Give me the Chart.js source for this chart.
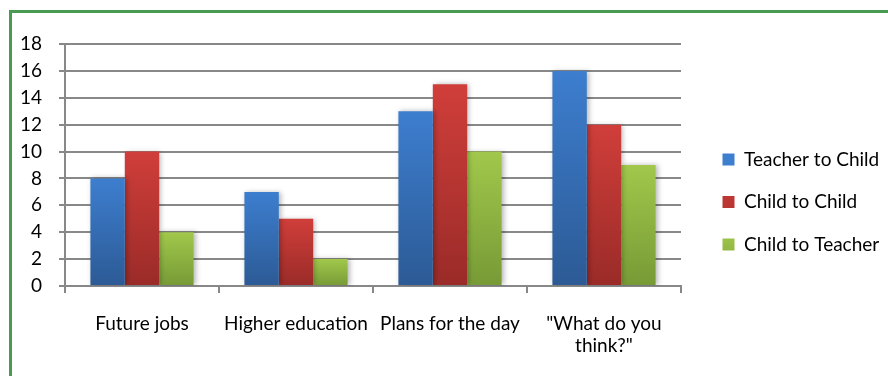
<!DOCTYPE html>
<html><head><meta charset="utf-8">
<script src="https://cdn.jsdelivr.net/npm/chart.js@4/dist/chart.umd.min.js"></script>
<style>
html,body{margin:0;padding:0;background:#fff;}
#wrap{position:relative;width:888px;height:376px;overflow:hidden;}
#frame{position:absolute;left:9px;top:10px;width:900px;height:400px;border-left:3px solid #4a9b52;border-top:3px solid #4a9b52;}
canvas{position:absolute;left:0;top:0;}
</style></head><body>
<div id="wrap"><div id="frame"></div><canvas id="c" width="888" height="376"></canvas></div>
<script>
const categories = ['Future jobs', 'Higher education', 'Plans for the day', ['"What do you', 'think?"']];
const seriesNames = ['Teacher to Child', 'Child to Child', 'Child to Teacher'];
const teacherToChild = [8, 7, 13, 16];
const childToChild = [10, 5, 15, 12];
const childToTeacher = [4, 2, 10, 9];
const yTicks = [0, 2, 4, 6, 8, 10, 12, 14, 16, 18];

const FONT = {family: 'Lato', size: 19};
const GRID = '#888888';

function grad(top, mid, bottom) {
  return function (ctx) {
    const ch = ctx.chart;
    const y = ch.scales && ch.scales.y;
    if (ctx.type !== 'data' || !y || !ch.chartArea) return mid;
    const y1 = y.getPixelForValue(ctx.raw), y0 = y.getPixelForValue(0);
    if (!isFinite(y1) || !isFinite(y0) || y1 === y0) return mid;
    const g = ch.ctx.createLinearGradient(0, y1, 0, y0);
    g.addColorStop(0, top);
    g.addColorStop(1, bottom);
    return g;
  };
}

const shadowPlugin = {
  id: 'barShadow',
  beforeDatasetsDraw(chart) {
    const c = chart.ctx;
    c.save();
    c.shadowColor = 'rgba(0,0,0,0.28)';
    c.shadowBlur = 5;
    c.shadowOffsetX = 2;
    c.shadowOffsetY = 0;
  },
  afterDatasetsDraw(chart) { chart.ctx.restore(); }
};

new Chart(document.getElementById('c'), {
  type: 'bar',
  data: {
    labels: categories,
    datasets: [
      {label: seriesNames[0], data: teacherToChild, backgroundColor: grad('#3d7ecf', '#3469b0', '#2c5a95')},
      {label: seriesNames[1], data: childToChild, backgroundColor: grad('#d03e3a', '#b83531', '#9a2b28')},
      {label: seriesNames[2], data: childToTeacher, backgroundColor: grad('#a1c84b', '#8db441', '#779a36')}
    ]
  },
  options: {
    responsive: false,
    animation: false,
    devicePixelRatio: 1,
    layout: {padding: {top: 44, bottom: 16, left: 0, right: 0}},
    datasets: {bar: {categoryPercentage: 0.67, barPercentage: 1, borderWidth: 0}},
    plugins: {
      tooltip: {enabled: false},
      legend: {
        position: 'right',
        align: 'center',
        maxWidth: 189,
        labels: {boxWidth: 12, boxHeight: 12, padding: 23.5, font: FONT, color: '#000'}
      }
    },
    scales: {
      x: {
        grid: {drawOnChartArea: false, drawTicks: true, tickLength: 7, color: GRID, lineWidth: 2, offset: true},
        border: {display: true, color: GRID, width: 2},
        ticks: {padding: 19, color: '#000', font: FONT, maxRotation: 0, autoSkip: false},
        afterFit(s) { s.height = 74; }
      },
      y: {
        min: 0, max: 18,
        afterBuildTicks(s) { s.ticks = yTicks.map(v => ({value: v})); },
        grid: {color: GRID, lineWidth: 2, tickLength: 6},
        border: {display: true, color: GRID, width: 2},
        ticks: {padding: 17, color: '#000', font: FONT},
        afterFit(s) { s.width = 65; }
      },
      yr: {
        type: 'linear',
        position: 'right',
        display: true,
        grid: {display: false},
        border: {display: false},
        ticks: {display: false},
        afterFit(s) { s.width = 18; }
      }
    }
  },
  plugins: [shadowPlugin]
});
</script>
</body></html>
